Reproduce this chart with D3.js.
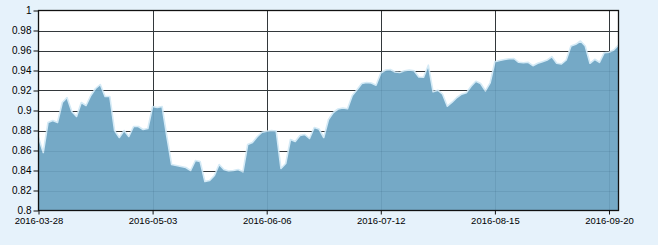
<!DOCTYPE html>
<html><head><meta charset="utf-8">
<script src="https://cdn.jsdelivr.net/npm/d3@7"></script>
<style>
html,body{margin:0;padding:0;background:#e6f2fb;}
svg{display:block;}
</style></head>
<body>
<svg id="c" width="658" height="245"></svg>
<script>
const dates = [
"2016-03-28","2016-03-29","2016-03-30","2016-03-31","2016-04-01","2016-04-05","2016-04-06","2016-04-07","2016-04-08",
"2016-04-11","2016-04-12","2016-04-13","2016-04-14","2016-04-15","2016-04-18","2016-04-19","2016-04-20","2016-04-21","2016-04-22",
"2016-04-25","2016-04-26","2016-04-27","2016-04-28","2016-04-29","2016-05-03","2016-05-04","2016-05-05","2016-05-06",
"2016-05-09","2016-05-10","2016-05-11","2016-05-12","2016-05-13","2016-05-16","2016-05-17","2016-05-18","2016-05-19","2016-05-20",
"2016-05-23","2016-05-24","2016-05-25","2016-05-26","2016-05-27","2016-05-30","2016-05-31","2016-06-01","2016-06-02","2016-06-03",
"2016-06-06","2016-06-07","2016-06-08","2016-06-13","2016-06-14","2016-06-15","2016-06-16","2016-06-17",
"2016-06-20","2016-06-21","2016-06-22","2016-06-23","2016-06-24","2016-06-27","2016-06-28","2016-06-29","2016-06-30","2016-07-01",
"2016-07-04","2016-07-05","2016-07-06","2016-07-07","2016-07-08","2016-07-11","2016-07-12","2016-07-13","2016-07-14","2016-07-15",
"2016-07-18","2016-07-19","2016-07-20","2016-07-21","2016-07-22","2016-07-25","2016-07-26","2016-07-27","2016-07-28","2016-07-29",
"2016-08-01","2016-08-02","2016-08-03","2016-08-04","2016-08-05","2016-08-08","2016-08-09","2016-08-10","2016-08-11","2016-08-12",
"2016-08-15","2016-08-16","2016-08-17","2016-08-18","2016-08-19","2016-08-22","2016-08-23","2016-08-24","2016-08-25","2016-08-26",
"2016-08-29","2016-08-30","2016-08-31","2016-09-01","2016-09-02","2016-09-05","2016-09-06","2016-09-07","2016-09-08","2016-09-09",
"2016-09-12","2016-09-13","2016-09-14","2016-09-19","2016-09-20","2016-09-21","2016-09-22"
];
const values = [
0.873,0.858,0.888,0.890,0.888,0.908,0.913,0.899,0.894,0.908,
0.905,0.915,0.922,0.926,0.914,0.914,0.880,0.873,0.880,0.874,
0.884,0.884,0.881,0.882,0.904,0.903,0.904,0.874,0.846,0.845,
0.844,0.843,0.840,0.850,0.849,0.829,0.830,0.835,0.846,0.841,
0.8395,0.840,0.841,0.8387,0.866,0.868,0.8737,0.8783,0.8792,0.880,
0.8795,0.842,0.847,0.871,0.869,0.875,0.876,0.872,0.883,0.8815,
0.873,0.891,0.898,0.9015,0.9025,0.9017,0.915,0.9207,0.927,0.928,
0.9275,0.9253,0.9375,0.9405,0.941,0.9385,0.938,0.9397,0.9405,0.9397,
0.9335,0.9333,0.9453,0.9187,0.9203,0.9163,0.9043,0.9083,0.913,0.9163,
0.9177,0.9243,0.9293,0.927,0.9197,0.9277,0.9487,0.950,0.951,0.9517,
0.952,0.9482,0.9478,0.9482,0.9448,0.9472,0.9488,0.9505,0.9538,0.9472,
0.9465,0.9505,0.9645,0.9662,0.9695,0.9645,0.9472,0.9512,0.9482,0.9578,
0.9582,0.9605,0.9655
];
const xTickLabels = ["2016-03-28","2016-05-03","2016-06-06","2016-07-12","2016-08-15","2016-09-20"];
const yTicks = [0.8,0.82,0.84,0.86,0.88,0.9,0.92,0.94,0.96,0.98,1];

const L = 38.5, R = 618.5, T = 10.5, B = 210.5;
const svg = d3.select("#c");
const x = d3.scalePoint().domain(dates).range([L, R]);
const y = d3.scaleLinear().domain([0.8, 1]).range([B, T]);

svg.append("rect").attr("x", L).attr("y", T).attr("width", R - L).attr("height", B - T).attr("fill", "#ffffff");

function grid(color, opacity) {
  const g = svg.append("g").attr("stroke", color).attr("stroke-opacity", opacity).attr("stroke-width", 1);
  g.selectAll("line.h").data(yTicks.filter(d => d > 0.8 && d < 1)).join("line")
    .attr("x1", L).attr("x2", R)
    .attr("y1", d => Math.round(y(d)) + 0.5).attr("y2", d => Math.round(y(d)) + 0.5);
  g.selectAll("line.v").data(xTickLabels.slice(1)).join("line")
    .attr("y1", T).attr("y2", B)
    .attr("x1", d => Math.round(x(d)) + 0.5).attr("x2", d => Math.round(x(d)) + 0.5);
}
grid("#363636", 1);

// area
const area = d3.area().x((d, i) => x(dates[i])).y0(B).y1(d => y(d));
const line = d3.line().x((d, i) => x(dates[i])).y(d => y(d));
svg.append("path").datum(values).attr("d", area).attr("fill", "#75a9c6");
svg.append("path").datum(values).attr("d", line)
  .attr("fill", "none").attr("stroke", "#d4eaf6").attr("stroke-width", 1.6).attr("stroke-linejoin", "round");
grid("#1f4a66", 0.12);

// frame
svg.append("rect").attr("x", L).attr("y", T).attr("width", R - L).attr("height", B - T)
  .attr("fill", "none").attr("stroke", "#111").attr("stroke-width", 1.3);

// axes
const yAxis = d3.axisLeft(y).tickValues(yTicks).tickSize(5).tickPadding(2)
  .tickFormat(d => d === 1 ? "1" : d3.format("")(+d.toFixed(2)));
const ya = svg.append("g").attr("transform", `translate(${L},0)`).call(yAxis);
const xAxis = d3.axisBottom(x).tickValues(xTickLabels).tickSize(4).tickPadding(3);
const xa = svg.append("g").attr("transform", `translate(0,${B})`).call(xAxis);
[ya, xa].forEach(a => {
  a.select(".domain").remove();
  a.selectAll("line").attr("stroke", "#111");
  a.selectAll("text").attr("fill", "#000").style("font-family", "'Liberation Sans', Arial, sans-serif").style("font-size", "10px");
});
xa.selectAll("text").style("font-size", "9.5px");
</script>
</body></html>
